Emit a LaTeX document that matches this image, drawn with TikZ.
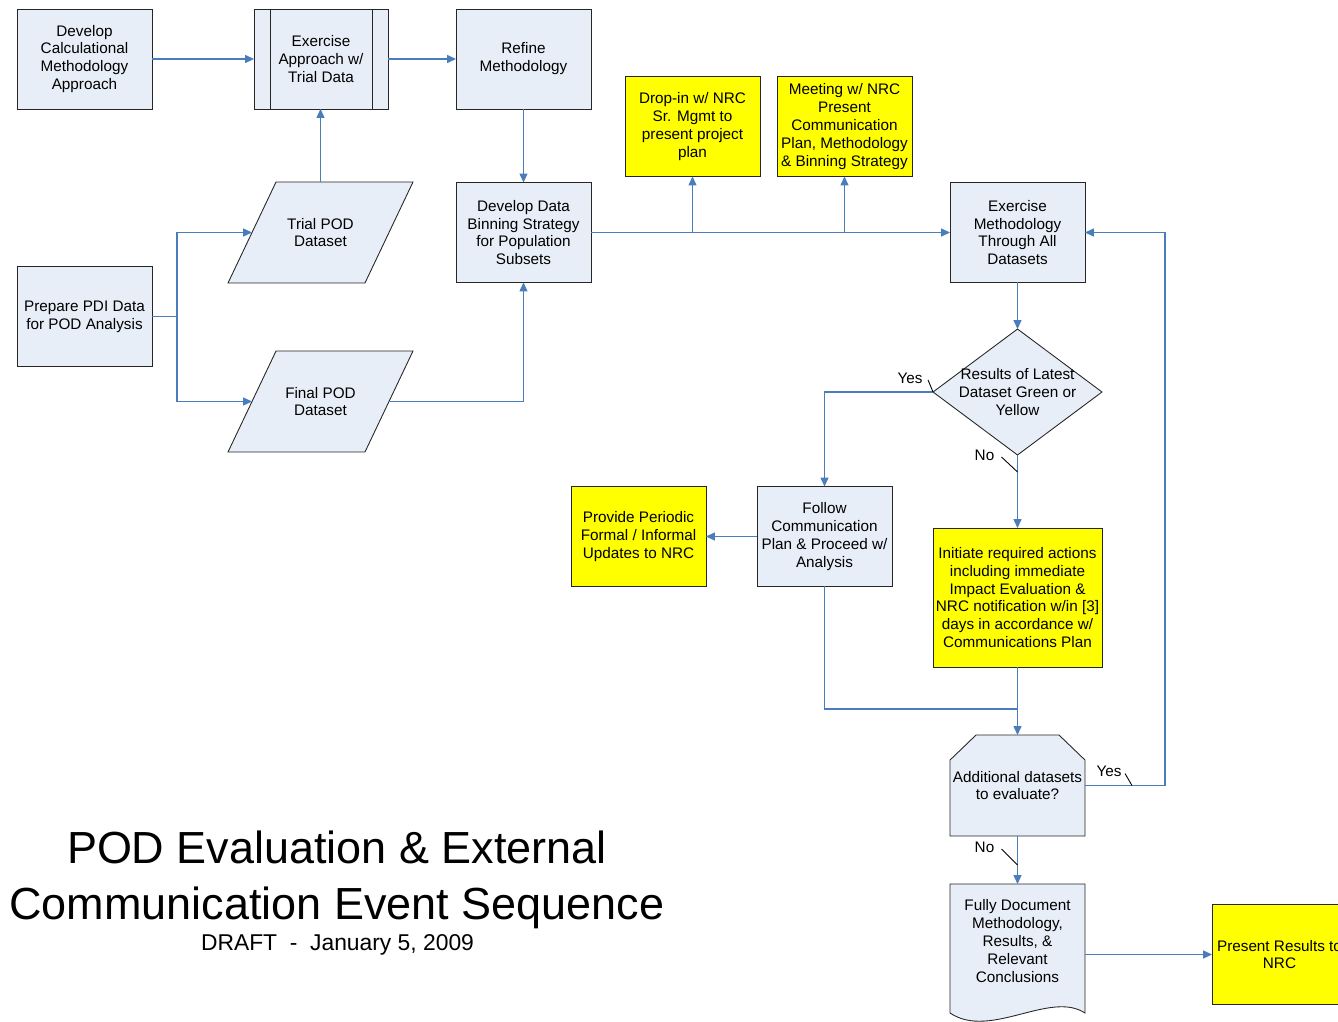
\documentclass[tikz,border=0pt]{standalone}
\usepackage{fontspec}
\setmainfont{Liberation Sans}
\usetikzlibrary{arrows.meta, calc, backgrounds}

\definecolor{boxfill}{RGB}{232,238,247}
\definecolor{linkblue}{RGB}{74,126,187}
\definecolor{nrcyellow}{RGB}{255,255,0}

\tikzset{
  stepbox/.style={draw=black!85, fill=boxfill, line width=0.5pt, minimum width=2.7cm, minimum height=2cm,
    inner sep=1pt, outer sep=0pt, align=center, font=\fontsize{8.7}{10.2}\selectfont},
  nrcbox/.style={stepbox, fill=nrcyellow},
  textonly/.style={align=center, inner sep=0pt, outer sep=0pt, font=\fontsize{8.7}{10.2}\selectfont},
  shapefill/.style={draw=black!85, fill=boxfill, line width=0.5pt},
  shapeline/.style={draw=black!85, line width=0.5pt},
  link/.style={draw=linkblue, line width=0.6pt, -{Triangle[length=5pt,width=4.5pt]}},
  joinline/.style={draw=linkblue, line width=0.6pt},
  answer/.style={inner sep=1pt, font=\fontsize{8.7}{10.2}\selectfont},
  calltick/.style={draw=black, line width=0.5pt}
}

\begin{document}
\begin{tikzpicture}[x=0.02cm, y=-0.02cm]
\useasboundingbox (0,0) rectangle (1338,1021);

% methodology row
\node[stepbox] (dev_calc) at (84.5,59) {Develop\\Calculational\\Methodology\\Approach};
\node[stepbox, minimum width=2.68cm] (exercise_trial) at (321,59) {Exercise\\Approach w/\\Trial Data};
\node[stepbox] (refine) at (523.5,59) {Refine\\Methodology};

% data preparation
\node[stepbox] (prepare_pdi) at (84.5,316.5) {Prepare PDI Data\\for POD Analysis};
\node[textonly, minimum width=2.74cm, minimum height=2.02cm] (trial_pod) at (320.5,232.5) {Trial POD\\Dataset};
\node[textonly, minimum width=2.74cm, minimum height=2.02cm] (final_pod) at (320.5,401.5) {Final POD\\Dataset};
\node[stepbox] (binning) at (523.5,232.5) {Develop Data\\Binning Strategy\\for Population\\Subsets};

% NRC contacts
\node[nrcbox] (dropin) at (692.5,126.5) {Drop-in w/ NRC\\Sr. Mgmt to\\present project\\plan};
\node[nrcbox] (meeting) at (844.5,126.5) {Meeting w/ NRC\\Present\\Communication\\Plan, Methodology\\\& Binning Strategy};

% evaluation loop
\node[stepbox] (exercise_all) at (1017.5,232.5) {Exercise\\Methodology\\Through All\\Datasets};
\node[textonly, minimum width=3.38cm, minimum height=2.52cm] (decision) at (1017.5,392) {Results of Latest\\Dataset Green or\\Yellow};
\node[stepbox] (follow) at (824.5,536.5) {Follow\\Communication\\Plan \& Proceed w/\\Analysis};
\node[nrcbox] (periodic) at (638.5,536.5) {Provide Periodic\\Formal / Informal\\Updates to NRC};
\node[nrcbox, minimum width=3.38cm, minimum height=2.78cm] (initiate) at (1017.5,597.5) {Initiate required actions\\including immediate\\Impact Evaluation \&\\NRC notification w/in [3]\\days in accordance w/\\Communications Plan};
\node[textonly, minimum width=2.7cm, minimum height=2.02cm] (additional) at (1017.5,785.5) {Additional datasets\\to evaluate?};
\node[textonly, minimum width=2.7cm, minimum height=2.28cm] (fully_doc) at (1017.5,941) {Fully Document\\Methodology,\\Results, \&\\Relevant\\Conclusions};
\node[nrcbox] (present) at (1279.5,954.5) {Present Results to\\NRC};

% shapes behind the texts
\begin{pgfonlayer}{background}
\foreach \pod in {trial_pod, final_pod}
  \draw[shapefill] ($(\pod.north west)+(24,0)$) -- ($(\pod.north east)+(24,0)$)
    -- ($(\pod.south east)+(-24,0)$) -- ($(\pod.south west)+(-24,0)$) -- cycle;
\draw[shapefill] (decision.north) -- (decision.east) -- (decision.south) -- (decision.west) -- cycle;
\draw[shapefill] ($(additional.north west)+(26,0)$) -- ($(additional.north east)+(-26,0)$)
  -- ($(additional.north east)+(0,25)$) -- (additional.south east) -- (additional.south west)
  -- ($(additional.north west)+(0,25)$) -- cycle;
\draw[shapefill] (fully_doc.north west) -- (fully_doc.north east) -- ($(fully_doc.south east)+(0,15)$)
  .. controls ($(fully_doc.south east)+(-35,-8)$) and ($(fully_doc.south west)+(40,42)$)
  .. ($(fully_doc.south west)+(0,15)$) -- cycle;
\end{pgfonlayer}
\draw[shapeline] ($(exercise_trial.north west)+(16,0)$) -- ($(exercise_trial.south west)+(16,0)$);
\draw[shapeline] ($(exercise_trial.north east)+(-16,0)$) -- ($(exercise_trial.south east)+(-16,0)$);

% connectors
\draw[link] (dev_calc) -- (exercise_trial);
\draw[link] (exercise_trial) -- (refine);
\draw[link] (trial_pod.north) -- (trial_pod.north |- exercise_trial.south);
\draw[link] (refine) -- (binning);
\draw[joinline] (prepare_pdi.east) -- ++(25,0) coordinate (split);
\draw[link] (split) |- (trial_pod.west);
\draw[link] (split) |- (final_pod.west);
\draw[link] (final_pod.east) -| (binning.south);
\draw[link] (binning.east) -- (exercise_all.west);
\draw[link] (binning.east -| dropin.south) -- (dropin.south);
\draw[link] (binning.east -| meeting.south) -- (meeting.south);
\draw[link] (exercise_all.south) -- (decision.north);
\draw[link] (decision.west) -| (follow.north);
\draw[link] (decision.south) -- (initiate.north);
\draw[link] (follow.west) -- (periodic.east);
\coordinate (merge) at (1017.5,709);
\draw[joinline] (follow.south) |- (merge);
\draw[link] (initiate.south) -- (additional.north);
\draw[link] (additional.east) -- ++(80,0) |- (exercise_all.east);
\draw[link] (additional.south) -- (fully_doc.north);
\draw[link] (present.west -| fully_doc.east) -- (present.west);

% answers
\node[answer] (yes_decision) at ($(decision.west)+(-23,-14)$) {Yes};
\draw[calltick] ($(decision.west)+(-5,-12)$) -- (decision.west);
\node[answer] (no_decision) at ($(decision.south)+(-33,0)$) {No};
\draw[calltick] ($(decision.south)+(-16,2)$) -- ++(16,15);
\node[answer] (yes_additional) at ($(additional.east)+(24,-14)$) {Yes};
\draw[calltick] ($(additional.east)+(40,-12)$) -- ++(7,12);
\node[answer] (no_additional) at ($(additional.south)+(-33,11)$) {No};
\draw[calltick] ($(additional.south)+(-16,13)$) -- ++(16,16);

% title
\node[align=center, font=\fontsize{25.6}{31.8}\selectfont] (title) at (337,880) {POD Evaluation \& External\\Communication Event Sequence};
\node[font=\fontsize{13}{15}\selectfont] (draft) at (337.5,945) {DRAFT\ \ -\ \ January 5, 2009};

\end{tikzpicture}
\end{document}
